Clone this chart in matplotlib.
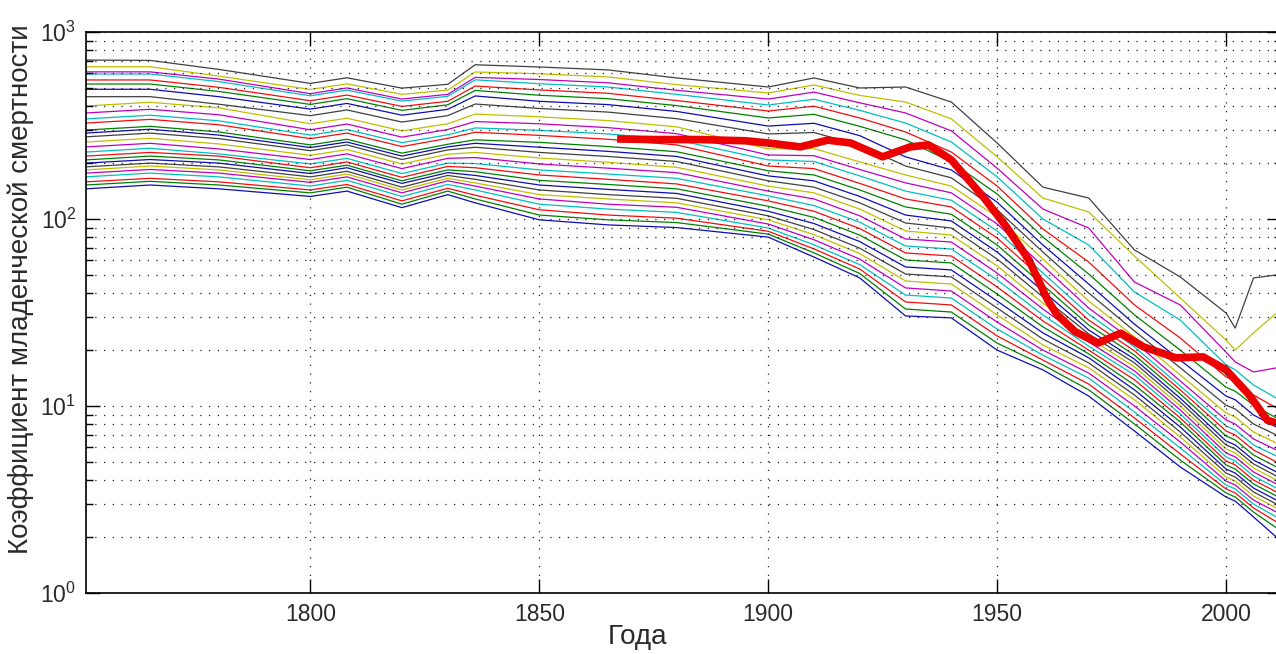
import numpy as np
import matplotlib
matplotlib.use("Agg")
import matplotlib.pyplot as plt
from matplotlib.ticker import LogLocator, NullFormatter

plt.rcParams['font.family'] = ['Liberation Sans', 'DejaVu Sans']

# ---- data (lines listed bottom -> top) ----
key_years = [1751, 1765, 1780, 1800, 1808, 1820, 1830, 1836, 1850, 1865, 1880,
             1900, 1910, 1920, 1930, 1940, 1950, 1960, 1970, 1980, 1990,
             2000, 2002, 2006, 2011]

v1751 = [145, 152, 158, 168, 176, 183, 190, 199, 207, 217, 228, 243, 258, 275, 288, 299, 326, 343, 369, 402, 451, 494, 527, 554, 596, 612, 652, 708]
v1765 = [152, 159, 165, 176, 184, 192, 199, 208, 217, 227, 239, 254, 270, 288, 302, 313, 341, 359, 386, 421, 451, 494, 527, 554, 596, 612, 652, 705]
v1780 = [145, 152, 158, 168, 176, 183, 190, 199, 207, 217, 223, 237, 252, 269, 281, 292, 319, 335, 361, 393, 411, 451, 481, 506, 543, 560, 581, 631]
v1800 = [132, 138, 143, 150, 157, 162, 168, 175, 181, 188, 197, 208, 219, 232, 241, 249, 269, 281, 300, 323, 357, 387, 410, 429, 456, 468, 493, 531]
v1808 = [141, 148, 153, 161, 168, 174, 180, 188, 194, 202, 211, 223, 235, 249, 258, 267, 288, 301, 322, 346, 383, 415, 440, 460, 489, 502, 528, 569]
v1820 = [115, 120, 125, 132, 138, 143, 148, 155, 160, 167, 175, 186, 197, 208, 217, 225, 244, 256, 274, 296, 330, 359, 381, 400, 427, 438, 464, 501]
v1830 = [135, 141, 146, 153, 160, 165, 171, 177, 183, 191, 199, 211, 222, 234, 243, 251, 270, 282, 301, 323, 357, 386, 408, 426, 453, 464, 489, 525]
v1836 = [122, 128, 134, 143, 150, 156, 163, 171, 179, 188, 198, 213, 227, 242, 254, 265, 291, 307, 332, 364, 412, 455, 487, 514, 555, 572, 611, 668]
v1850 = [99, 105, 112, 120, 128, 135, 143, 152, 161, 172, 183, 197, 212, 227, 242, 257, 280, 298, 323, 352, 390, 426, 459, 490, 529, 557, 598, 650]
v1865 = [93, 99, 105, 113, 120, 128, 135, 144, 153, 163, 174, 187, 201, 216, 230, 244, 267, 285, 308, 336, 373, 409, 440, 470, 508, 535, 575, 627]
v1880 = [90, 95.7, 101, 108.5, 115.5, 122, 129, 137, 145, 154, 165, 177, 189, 203, 216, 229, 249, 265, 286, 311, 344, 376, 404, 430, 464, 488, 523, 568]
v1900 = [80, 83, 86, 89.5, 94, 99, 104, 110, 117, 125, 133, 141, 150, 160, 170, 181, 192, 207, 220, 237, 285, 314, 347, 378, 407, 438, 472, 508]
v1910 = [62.6, 65.9, 69.2, 72.8, 77.5, 82.5, 87.8, 94.6, 102, 110, 118, 128, 138, 148, 160, 172, 186, 203, 218, 238, 290, 325, 363, 401, 437, 477, 521, 568]
v1920 = [48.4, 51.1, 54.0, 57.0, 61.0, 65.3, 69.8, 75.7, 82.0, 88.9, 96.1, 104, 113, 122, 132, 143, 155, 170, 184, 202, 248, 279, 313, 347, 381, 418, 458, 502]
v1930 = [30.3, 33.0, 36.0, 39.2, 42.8, 46.6, 50.8, 55.4, 60.4, 65.8, 71.7, 78.2, 86.3, 95.2, 105, 116, 128, 141, 156, 172, 192, 215, 265, 292, 326, 369, 422, 508]
v1940 = [29.6, 31.8, 34.7, 37.8, 41.2, 44.9, 49.0, 53.4, 58.2, 63.4, 69.1, 75.3, 82.1, 89.5, 97.6, 106, 116, 126, 138, 150, 166, 183, 202, 228, 258, 296, 343, 422]
v1950 = [19.9, 21.7, 23.7, 25.8, 28.1, 30.7, 33.4, 36.4, 39.7, 43.3, 47.2, 51.4, 56.1, 61.1, 66.6, 72.6, 79.1, 86.3, 94.0, 102.5, 112, 123, 136, 150, 168, 187, 215, 255]
v1960 = [15.6, 16.6, 17.6, 18.7, 19.9, 21.2, 22.8, 24.6, 26.5, 28.5, 30.7, 33.0, 35.5, 38.3, 41.2, 44.4, 47.8, 51.4, 56.1, 61.1, 66.6, 72.6, 80.1, 88.4, 100, 113, 129.5, 148]
v1970 = [11.3, 12.2, 13.1, 14.1, 15.0, 16.0, 17.0, 18.1, 19.0, 19.9, 20.9, 22.0, 23.1, 24.3, 25.5, 27.1, 28.8, 31.0, 33.4, 36.4, 40.2, 44.9, 50.8, 58.9, 72.6, 89.5, 109, 129.5]
v1980 = [7.35, 8.01, 8.63, 9.29, 10.0, 10.8, 11.45, 12.2, 12.95, 13.8, 14.65, 15.4, 16.2, 17.0, 17.8, 18.7, 19.7, 20.7, 22.0, 23.4, 25.2, 27.4, 30.7, 34.7, 40.7, 46.0, 63.4, 68.3]
v1990 = [4.72, 5.14, 5.54, 5.96, 6.42, 6.83, 7.26, 7.72, 8.21, 8.63, 9.06, 9.52, 10.0, 10.5, 11.0, 11.6, 12.2, 12.8, 13.6, 14.65, 16.0, 17.6, 19.9, 23.1, 28.8, 34.7, 37.8, 49.0]
v2000 = [3.26, 3.43, 3.60, 3.78, 3.97, 4.17, 4.38, 4.60, 4.84, 5.08, 5.34, 5.61, 5.89, 6.19, 6.50, 6.91, 7.35, 7.82, 8.42, 9.18, 10.1, 11.3, 12.6, 14.3, 16.6, 19.4, 22.5, 31.4]
v2002 = [3.10, 3.26, 3.43, 3.60, 3.78, 3.97, 4.17, 4.38, 4.60, 4.84, 5.08, 5.34, 5.61, 5.89, 6.19, 6.58, 7.00, 7.44, 8.01, 8.73, 9.64, 10.8, 12.0, 13.6, 15.6, 17.2, 19.9, 26.1]
v2006 = [2.55, 2.71, 2.85, 2.99, 3.14, 3.30, 3.47, 3.64, 3.83, 4.02, 4.22, 4.44, 4.66, 4.90, 5.14, 5.47, 5.82, 6.19, 6.66, 7.26, 8.01, 8.95, 10.1, 11.45, 12.95, 15.2, 24.6, 48.4]
v2011 = [1.99, 2.23, 2.40, 2.55, 2.71, 2.85, 2.99, 3.14, 3.30, 3.47, 3.64, 3.83, 4.02, 4.22, 4.44, 4.72, 5.02, 5.40, 5.82, 6.34, 7.00, 7.72, 8.63, 9.76, 11.0, 16.0, 31.4, 50.2]

rows = [v1751, v1765, v1780, v1800, v1808, v1820, v1830, v1836, v1850, v1865,
        v1880, v1900, v1910, v1920, v1930, v1940, v1950, v1960, v1970, v1980,
        v1990, v2000, v2002, v2006, v2011]

red_years = [1867, 1875, 1885, 1895, 1900, 1907, 1913, 1918, 1925, 1931, 1935,
             1940, 1947, 1952, 1957, 1961, 1963, 1967, 1972, 1977, 1982, 1989,
             1995, 2000, 2005, 2009, 2011]
red_vals = [268, 266, 266, 262, 255, 243, 264, 255, 215, 243, 249,
            207, 131, 91, 60, 37, 31, 25, 21.7, 24.5, 20.7, 18.1,
            18.3, 15.6, 11.5, 8.4, 8.1]

x_ticks = [1800, 1850, 1900, 1950, 2000]
y_ticks = [1, 10, 100, 1000]
y_tick_labels = [r'$\mathregular{10^{0}}$', r'$\mathregular{10^{1}}$',
                 r'$\mathregular{10^{2}}$', r'$\mathregular{10^{3}}$']
x_label = 'Года'
y_label = 'Коэффициент младенческой смертности'

# ---- drawing ----
curves = np.array(rows).T
line_colors = [(0.05, 0.05, 0.7), (0, 0.5, 0), (0.95, 0.05, 0.05), (0, 0.75, 0.75),
               (0.75, 0, 0.75), (0.75, 0.75, 0), (0.25, 0.25, 0.25)]

W, H = 1276, 654
fig = plt.figure(figsize=(W / 100, H / 100), dpi=100)
ax = fig.add_axes([86 / W, 61 / H, (1281 - 86) / W, 561 / H])

for i, c in enumerate(curves):
    ax.plot(key_years, c, color=line_colors[i % 7], lw=0.9)
ax.plot(red_years, red_vals, color=(0.93, 0, 0), lw=5.5,
        solid_joinstyle='round', solid_capstyle='butt')

ax.set_yscale('log')
ax.set_ylim(1, 1000)
ax.set_xlim(1751, 2012)
ax.set_xticks(x_ticks)
ax.set_xticklabels([str(t) for t in x_ticks])
ax.set_yticks(y_ticks)
ax.set_yticklabels(y_tick_labels)
ax.yaxis.set_minor_locator(LogLocator(base=10, subs=range(2, 10)))
ax.yaxis.set_minor_formatter(NullFormatter())

ax.tick_params(which='both', direction='in', top=True, right=True, color='k')
ax.tick_params(which='major', length=10, width=1.0, labelsize=16.5, pad=7,
               labelcolor='#2a2a2a')
ax.tick_params(which='minor', length=5, width=1.0)

dot = (0, (1, 6))
ax.grid(True, which='major', axis='both', linestyle=dot, lw=0.9, color='#202020')
ax.grid(True, which='minor', axis='y', linestyle=dot, lw=0.9, color='#202020')
ax.set_axisbelow(False)

for s in ax.spines.values():
    s.set_linewidth(1.2)
    s.set_color('k')

ax.set_xlabel(x_label, fontsize=20, color='#2a2a2a')
ax.xaxis.set_label_coords(0.4615, -0.055)
ax.set_ylabel(y_label, fontsize=20, color='#2a2a2a')
ax.yaxis.set_label_coords(-0.0435, 0.541)

fig.savefig('out.png', dpi=100)
